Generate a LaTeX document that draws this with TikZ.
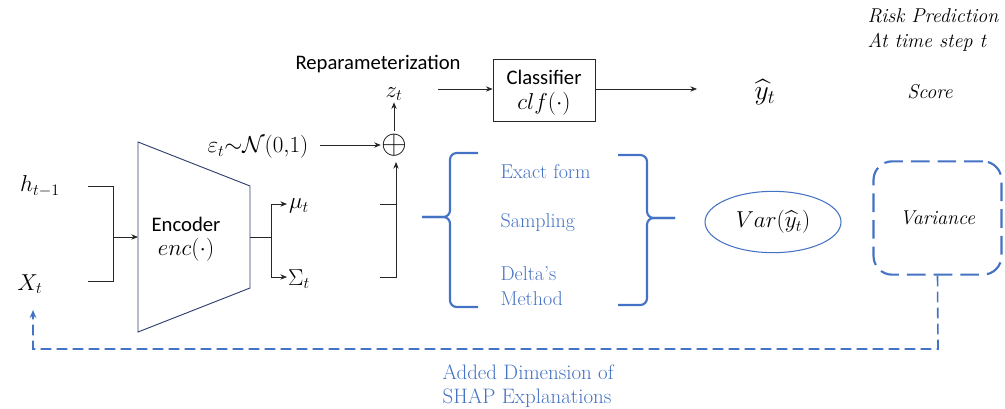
\documentclass[tikz,border=0pt]{standalone}
\usepackage{amsmath}
\usepackage{fontspec}
\newfontfamily\calib{Carlito}
\newcommand\tms{\rmfamily}
\usetikzlibrary{arrows.meta,shapes.geometric}
\definecolor{bl}{RGB}{68,114,196}
\definecolor{navy}{RGB}{47,62,110}
\begin{document}
\begin{tikzpicture}[x=0.75pt,y=-0.75pt,
  ln/.style={black!85,line width=0.6pt},
  arr/.style={ln,-{Stealth[length=5pt,width=4pt]}},
  mt/.style={inner sep=1pt,font=\fontsize{18}{20}\selectfont},
  sf/.style={inner sep=1pt,font=\calib\fontsize{15.5}{18}\selectfont},
  bt/.style={inner sep=1pt,anchor=west,text=bl,font=\tms\fontsize{15}{18.5}\selectfont},
  it/.style={inner sep=1pt,font=\tms\itshape\fontsize{15}{19}\selectfont},
  brace/.style={draw=bl,line width=1.6pt,rounded corners=5pt},
  dbox/.style={draw=bl,line width=1.6pt,dash pattern=on 14pt off 6pt,rounded corners=14pt},
  dline/.style={draw=bl,line width=1.2pt,dash pattern=on 8pt off 4pt}]
\useasboundingbox (0,0) rectangle (1005,408);

% inputs
\node[mt] (h) at (40,186) {$h_{t-1}$};
\node[mt] (x) at (30,284) {$X_t$};
\coordinate (hend) at (88,186);
\coordinate (xend) at (88,281);
\coordinate (join) at (113,237);
\draw[ln] (hend) -- (113,186) -- (113,281) -- (xend);

% encoder
\draw[navy,line width=0.7pt] (138,142) -- (250,186) -- (250,288) -- (138,332) -- cycle;
\coordinate (encin) at (138,237);
\coordinate (encout) at (250,237);
\node[sf] (enc) at (186,224) {Encoder};
\node[mt] (encf) at (186,250) {$enc(\cdot)$};
\draw[arr] (join) -- (encin);

% outputs
\node[mt] (mu) at (299,206) {$\mu_t$};
\node[mt] (sig) at (299,279) {$\Sigma_t$};
\coordinate (split) at (271,237);
\coordinate (mutip) at (287,204);
\coordinate (sigtip) at (287,277);
\draw[ln] (encout) -- (split);
\draw[arr] (split) |- (mutip);
\draw[arr] (split) |- (sigtip);

% reparameterization
\node[sf] (rep) at (378,64) {Reparameterization};
\node[mt] (eps) at (258,147) {$\varepsilon_t{\sim}\mathcal{N}(0{,}1)$};
\node[inner sep=0pt,font=\fontsize{26}{28}\selectfont] (op) at (394,145) {$\oplus$};
\node[mt] (z) at (394,94) {$z_t$};
\coordinate (epsend) at (320,145);
\draw[arr] (epsend) -- (op.west);
\draw[arr] (op.north) ++(0,-3) -- (z.south);
\coordinate (mustart) at (380,204);
\coordinate (sigstart) at (380,277);
\draw[ln] (mustart) -- (396,204);
\draw[arr] (sigstart) -- (396,277) -- (396,162);

% classifier
\node[draw,ln,minimum width=76.5pt,minimum height=46.5pt,inner sep=0pt] (clf) at (544,90) {};
\node[sf] (clft) at (544,77) {Classifier};
\node[mt] (clff) at (544,104) {$clf(\cdot)$};
\coordinate (zout) at (438,89);
\coordinate (yin) at (697,89);
\draw[arr] (zout) -- (clf.west |- zout);
\draw[arr] (clf.east |- zout) -- (yin);
\node[inner sep=1pt,font=\fontsize{20}{22}\selectfont] (y) at (765,92) {$\widehat{y}_t$};
\node[it] (score) at (930,92) {Score};
\node[it,anchor=west] (risk1) at (866,16) {Risk Prediction};
\node[it,anchor=west] (risk2) at (866,42) {At time step t};

% braces
\draw[brace] (478,153) -- (450,153) -- (450,217) -- (422,217);
\draw[brace] (422,217) -- (450,217) -- (450,307) -- (478,307);
\draw[brace] (618,155) -- (647,155) -- (647,218) -- (675,218);
\draw[brace] (675,218) -- (647,218) -- (647,305) -- (618,305);
\node[bt] (ef) at (499,172) {Exact form};
\node[bt] (sa) at (499,223) {Sampling};
\node[bt,align=left] (dm) at (499,286) {Delta’s\\Method};

% variance
\node[ellipse,draw=bl,line width=0.8pt,minimum width=102pt,minimum height=46pt,inner sep=0pt,
  font=\fontsize{18}{20}\selectfont] (var) at (773,222) {$Var(\widehat{y}_t)$};
\node[dbox,minimum width=96pt,minimum height=85pt,inner sep=0pt,it] (vb) at (937.5,218) {Variance};

% feedback
\coordinate (c1) at (938,349);
\coordinate (c2) at (33,349);
\coordinate (xtip) at (33,310);
\draw[dline,-{Stealth[length=6pt,width=5pt]}] (vb.south) -- (c1) -- (c2) -- (xtip);
\node[text=bl,inner sep=1pt,anchor=west,align=left,font=\tms\fontsize{15.7}{18.5}\selectfont] (shap) at (441,386) {Added Dimension of\\SHAP Explanations};
\end{tikzpicture}
\end{document}
